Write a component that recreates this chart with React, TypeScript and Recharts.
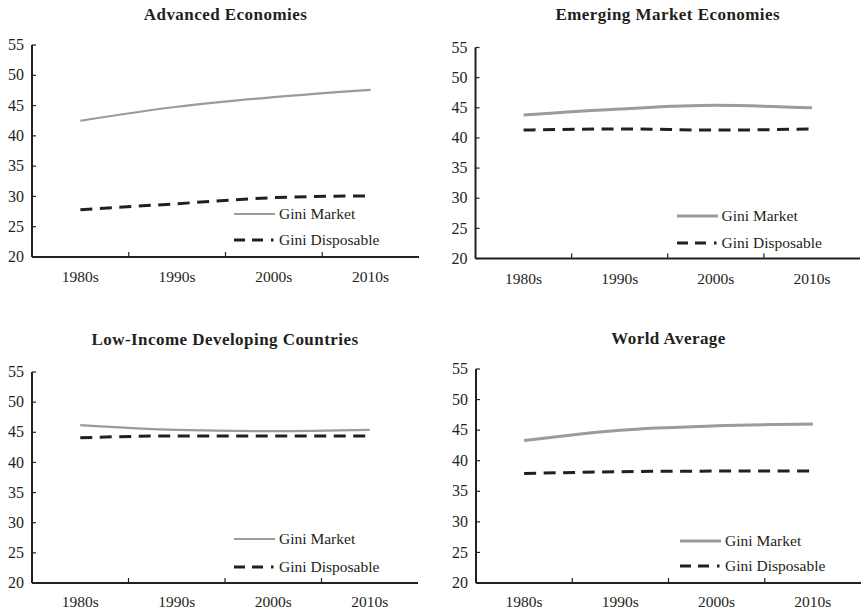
import React from 'react';
import { LineChart, Line, XAxis, YAxis, Legend } from 'recharts';

const categories = ['1980s', '1990s', '2000s', '2010s'];
const yTicks = [20, 25, 30, 35, 40, 45, 50, 55];

const titles = [
  'Advanced Economies',
  'Emerging Market Economies',
  'Low-Income Developing Countries',
  'World Average',
];

const advMarket = [42.5, 44.8, 46.4, 47.6];
const advDisp = [27.8, 28.8, 29.8, 30.1];
const emMarket = [43.8, 44.8, 45.4, 45.0];
const emDisp = [41.3, 41.5, 41.3, 41.5];
const lidcMarket = [46.2, 45.4, 45.2, 45.4];
const lidcDisp = [44.1, 44.4, 44.4, 44.4];
const worldMarket = [43.3, 45.0, 45.7, 46.0];
const worldDisp = [37.9, 38.2, 38.3, 38.3];

const FONT = '"Liberation Serif", "Times New Roman", serif';
const INK = '#231f20';
const GRAY = '#9b9b9b';

type Box = { left: number; top: number; width: number; height: number };
type Plot = { left: number; top: number; right: number; bottom: number };

const XTick = (props: any) => {
  const { x, y, payload, index, band, labelDy } = props;
  return (
    <g>
      {index > 0 ? (
        <line x1={x - band / 2} x2={x - band / 2} y1={y} y2={y - 5} stroke={INK} strokeWidth={1.2} />
      ) : null}
      <text x={x} y={y + labelDy} textAnchor="middle" fontFamily={FONT} fontSize={15.5} fill={INK}>
        {payload.value}
      </text>
    </g>
  );
};

const YTick = (props: any) => {
  const { x, y, payload } = props;
  return (
    <g>
      <line x1={x} x2={x + 4} y1={y} y2={y} stroke={INK} strokeWidth={1.2} />
      <text x={x - 8} y={y + 5.2} textAnchor="end" fontFamily={FONT} fontSize={16} fill={INK}>
        {payload.value}
      </text>
    </g>
  );
};

function LegendContent({ marketWidth, rowH }: { marketWidth: number; rowH: number }) {
  const row: React.CSSProperties = { display: 'flex', alignItems: 'center', height: rowH, whiteSpace: 'nowrap' };
  return (
    <div style={{ fontFamily: FONT, fontSize: 15.5, color: INK }}>
      <div style={row}>
        <svg width={45} height={8} style={{ display: 'block' }}>
          <line x1={0} x2={41} y1={4} y2={4} stroke={GRAY} strokeWidth={marketWidth} />
        </svg>
        <span>Gini Market</span>
      </div>
      <div style={row}>
        <svg width={45} height={8} style={{ display: 'block' }}>
          <line x1={0} x2={41} y1={4} y2={4} stroke={INK} strokeWidth={3} strokeDasharray="11 7 11 8 2.5 100" />
        </svg>
        <span>Gini Disposable</span>
      </div>
    </div>
  );
}

function Panel(props: {
  title: string;
  market: number[];
  disp: number[];
  box: Box;
  plot: Plot;
  titleY: number;
  legendX: number;
  legendY: number;
  rowH: number;
  marketWidth: number;
  labelDy: number;
}) {
  const { title, market, disp, box, plot, titleY, legendX, legendY, rowH, marketWidth, labelDy } = props;
  const data = categories.map((c, i) => ({ cat: c, market: market[i], disp: disp[i] }));
  const marginTop = plot.top - box.top;
  const yW = plot.left - box.left;
  const marginRight = box.left + box.width - plot.right;
  const xH = box.top + box.height - plot.bottom;
  const band = (plot.right - plot.left) / categories.length;
  const cx = (plot.left + plot.right) / 2 - box.left;
  return (
    <div style={{ position: 'absolute', left: box.left, top: box.top, width: box.width, height: box.height }}>
      <div
        style={{
          position: 'absolute',
          left: cx - 200,
          width: 400,
          top: titleY - box.top - 11,
          textAlign: 'center',
          fontFamily: FONT,
          fontWeight: 'bold',
          fontSize: 17,
          letterSpacing: 0.45,
          color: INK,
          lineHeight: '20px',
          whiteSpace: 'nowrap',
        }}
      >
        {title}
      </div>
      <LineChart
        width={box.width}
        height={box.height}
        data={data}
        margin={{ top: marginTop, right: marginRight, bottom: 0, left: 0 }}
        style={{ position: 'absolute', left: 0, top: 0 }}
      >
        <XAxis
          dataKey="cat"
          type="category"
          scale="band"
          height={xH}
          interval={0}
          tickSize={0}
          tickMargin={0}
          tickLine={false}
          axisLine={{ stroke: INK, strokeWidth: 2 }}
          tick={<XTick band={band} labelDy={labelDy} />}
        />
        <XAxis
          xAxisId="top"
          orientation="top"
          dataKey="cat"
          type="category"
          height={0}
          tick={false}
          tickLine={false}
          axisLine={{ stroke: '#555', strokeWidth: 1.2 }}
        />
        <YAxis
          domain={[20, 55]}
          ticks={yTicks}
          interval={0}
          width={yW}
          tickSize={0}
          tickMargin={0}
          tickLine={false}
          axisLine={{ stroke: INK, strokeWidth: 2 }}
          tick={<YTick />}
        />
        <YAxis
          yAxisId="right"
          orientation="right"
          width={0}
          domain={[20, 55]}
          tick={false}
          tickLine={false}
          axisLine={{ stroke: '#555', strokeWidth: 1.2 }}
        />
        <Line
          dataKey="market"
          type="monotone"
          stroke={GRAY}
          strokeWidth={marketWidth}
          dot={false}
          activeDot={false}
          isAnimationActive={false}
        />
        <Line
          dataKey="disp"
          type="monotone"
          stroke={INK}
          strokeWidth={3}
          strokeDasharray="12 7.5"
          dot={false}
          activeDot={false}
          isAnimationActive={false}
        />
        <Legend
          layout="horizontal"
          verticalAlign="middle"
          align="center"
          wrapperStyle={{ left: legendX - box.left, top: legendY - box.top - rowH / 2, width: 'auto' }}
          content={() => <LegendContent marketWidth={marketWidth} rowH={rowH} />}
        />
      </LineChart>
    </div>
  );
}

export default function App() {
  return (
    <div style={{ position: 'absolute', left: 0, top: 0, width: 862, height: 612, background: '#fff', overflow: 'hidden' }}>
      <Panel
        title={titles[0]}
        market={advMarket}
        disp={advDisp}
        box={{ left: 0, top: 0, width: 431, height: 300 }}
        plot={{ left: 32, top: 45, right: 419, bottom: 257 }}
        titleY={16}
        legendX={234}
        legendY={214}
        rowH={26}
        marketWidth={2.2}
        labelDy={25}
      />
      <Panel
        title={titles[1]}
        market={emMarket}
        disp={emDisp}
        box={{ left: 431, top: 0, width: 431, height: 300 }}
        plot={{ left: 475.5, top: 47.5, right: 860, bottom: 258.5 }}
        titleY={16}
        legendX={676.5}
        legendY={215.5}
        rowH={27.5}
        marketWidth={3}
        labelDy={25}
      />
      <Panel
        title={titles[2]}
        market={lidcMarket}
        disp={lidcDisp}
        box={{ left: 0, top: 306, width: 431, height: 306 }}
        plot={{ left: 32, top: 372, right: 418, bottom: 583 }}
        titleY={341}
        legendX={234}
        legendY={539}
        rowH={28}
        marketWidth={2.2}
        labelDy={23.5}
      />
      <Panel
        title={titles[3]}
        market={worldMarket}
        disp={worldDisp}
        box={{ left: 431, top: 306, width: 431, height: 306 }}
        plot={{ left: 476, top: 369, right: 861, bottom: 583 }}
        titleY={340}
        legendX={680}
        legendY={540.5}
        rowH={25.5}
        marketWidth={3}
        labelDy={23.5}
      />
    </div>
  );
}
